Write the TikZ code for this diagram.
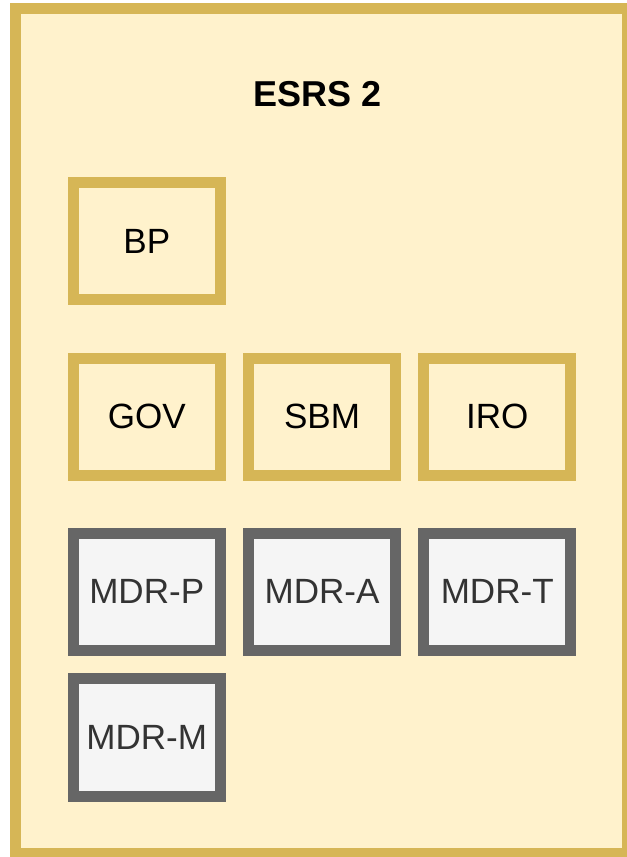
\documentclass[tikz,border=0pt]{standalone}
\usepackage{fontspec}
\setmainfont{Liberation Sans}
\definecolor{esrsfill}{HTML}{FFF2CC}
\definecolor{esrsline}{HTML}{D6B656}
\definecolor{mdrfill}{HTML}{F5F5F5}
\definecolor{mdrline}{HTML}{666666}
\definecolor{mdrtext}{HTML}{333333}
\usepackage{tikz}
\usetikzlibrary{positioning}
\tikzset{
  drbox/.style={draw=esrsline, fill=esrsfill, line width=8.25pt, inner sep=0pt,
    minimum width=109.9pt, minimum height=88.1pt, font=\fontsize{26.3}{31}\selectfont},
  mdrbox/.style={drbox, draw=mdrline, fill=mdrfill, text=mdrtext}
}

\begin{document}
\begin{tikzpicture}[x=0.75pt, y=-0.75pt]
  \useasboundingbox (0, 0) rectangle (626, 857);

  % Outer frame
  \node[draw=esrsline, fill=esrsfill, line width=8.25pt, minimum width=459pt, minimum height=634.1pt, inner sep=0pt] (frame) at (321.5, 430.75) {};
  \node[font=\bfseries\fontsize{27}{32}\selectfont] (title) at (318, 94) {ESRS 2};

  % General requirements
  \node[drbox] (bp) at (146.75, 241) {BP};
  \node[drbox] (gov) at (146.75, 416.75) {GOV};
  \node[drbox] (sbm) at (322, 416.75) {SBM};
  \node[drbox] (iro) at (497.25, 416.75) {IRO};

  % Minimum disclosure requirements
  \node[mdrbox] (mdrp) at (146.75, 591.75) {MDR-P};
  \node[mdrbox] (mdra) at (322, 591.75) {MDR-A};
  \node[mdrbox] (mdrt) at (497.25, 591.75) {MDR-T};
  \node[mdrbox] (mdrm) at (146.75, 737.5) {MDR-M};
\end{tikzpicture}
\end{document}
